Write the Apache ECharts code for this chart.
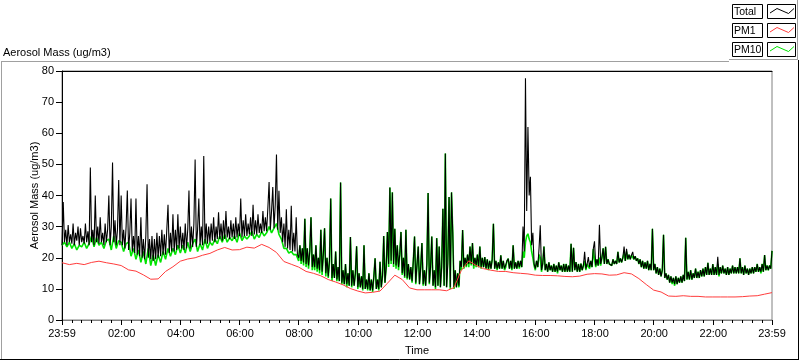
<!DOCTYPE html>
<html>
<head>
<meta charset="utf-8">
<script src="https://cdn.jsdelivr.net/npm/echarts@6/dist/echarts.min.js"></script>
<style>html,body{margin:0;padding:0;background:#fff}#c{width:800px;height:361px}</style>
</head>
<body>
<div id="c"></div>
<script>
// ---- data (x = minutes since the 23:59 start) ----
const seriesNames = ['Total', 'PM1', 'PM10'];
const xLabelMinutes = [0, 121, 241, 361, 481, 601, 721, 841, 961, 1081, 1201, 1321, 1440];
const totalStepMin = 2.5;
const pm1StepMin = 15;
const pm10EarlyStepMin = 5;
const pm10LateStartMin = 480;
const pm10LateStepMin = 2.5;

const totalValues = [
  24, 37.9, 25, 29, 24, 30.5, 25, 27.5, 24.5, 31, 24, 28, 25.5, 30, 24, 29.5, 25, 27, 24.5, 31, 25, 28.5, 24, 49,
  25, 29, 24, 40, 25, 30, 24.5, 33, 25, 28, 24, 31, 25, 29, 40, 24, 30, 50.6, 25, 32, 24, 29, 45, 24,
  40, 24, 29, 23, 30, 41.6, 22.5, 28, 39, 22, 27, 21.5, 39, 21, 27, 20.5, 33, 20, 26, 19.5, 27, 43.6, 20, 26,
  19.5, 27, 19, 26, 19.5, 28, 20, 27, 20.5, 29, 21, 27.5, 21, 29, 37, 21.5, 28, 22, 34, 22, 29, 22.5, 34, 23,
  30, 23, 28, 22.5, 31, 23, 29, 41.6, 23, 30, 23.5, 31, 51.6, 23.5, 29, 39, 24, 30, 24, 52.7, 24.5, 31, 24.5, 30,
  25, 31, 25.5, 33, 25, 30, 26, 34.6, 26, 31, 25.5, 32, 26, 35, 26.5, 30, 26, 32, 26.5, 31, 26, 33, 26.5, 31,
  27, 39, 26.5, 32, 27, 34, 27, 31, 27.5, 33, 27, 37, 27.5, 32, 27.5, 34, 28, 31, 28, 35, 28.5, 33, 28.5, 36,
  44.3, 29, 35, 42.7, 29.5, 37, 53.2, 29, 41.5, 28, 33, 25, 31, 23.5, 35.6, 23, 29, 22.5, 36.7, 22, 28, 22, 33, 21,
  20, 24, 19, 23, 18.5, 32.5, 18, 23, 17.5, 22, 33, 17, 21, 17, 24, 16.5, 20, 16, 29, 15.5, 21, 29.5, 15, 20,
  14, 19, 39, 13.5, 18, 13.5, 22, 13, 17, 12.5, 44.2, 12, 16, 11.5, 18, 11.5, 15, 11, 26.7, 11, 16, 11, 15, 23.7,
  10.5, 15, 10.5, 14, 10, 24, 10, 13, 10, 15, 9.5, 13, 9.5, 14, 19.8, 10, 13, 10, 18.7, 10.5, 14, 27, 12, 17,
  28.3, 18, 42.6, 19, 41, 18, 29.3, 17.5, 24, 17, 21, 28.3, 15, 20, 14, 29, 13.5, 18, 13, 17, 12.5, 19, 26.8, 12,
  12, 23.6, 11.5, 17, 24.7, 11.5, 16, 11, 18, 40.8, 12, 17, 26.8, 11, 16, 10.5, 26.3, 11, 23.6, 10.5, 17, 35.7, 11, 53.5,
  10.5, 18, 39.5, 10.5, 41, 28.3, 10.5, 16, 10.5, 15, 11, 19, 17, 28.9, 17, 20, 17.5, 21, 18, 23.6, 18, 24.7, 17.5, 20,
  17.5, 21, 17, 23.6, 17, 20, 17, 20.2, 16.5, 19.5, 16.5, 19, 16.5, 19.5, 30.9, 16.5, 19, 16.5, 18.5, 16.5, 20.8, 16.5, 19, 16.5,
  17, 19, 19.7, 16.5, 19, 16.5, 24, 16.5, 18.5, 16.5, 19, 17, 19, 17, 30, 22, 77.7, 35, 62, 40, 46, 24, 28, 18,
  16.5, 19, 17, 23, 30.4, 16, 18, 23.6, 16, 18, 15.5, 18.5, 16, 17.5, 15.5, 18, 15.5, 17.5, 15.5, 18.5, 16, 17.5, 15.5, 18,
  15.5, 18, 15.5, 17.5, 15.5, 24.5, 15.5, 23.2, 16, 18.6, 15.5, 18, 15.5, 18.1, 16, 17.5, 21.9, 16.5, 18, 20.2, 17, 19, 17, 22.8,
  25.3, 17.5, 19.5, 17.5, 30.6, 18, 20, 23, 18, 23.5, 18, 19.5, 18, 18.6, 17.5, 19.5, 18, 19, 18, 21.9, 18.5, 19.8, 18.5, 20,
  23.6, 19, 22.9, 19.5, 21, 19.5, 20.8, 21.9, 19.5, 20.5, 19, 19.8, 18, 19.5, 17, 19, 16.5, 18.5, 16.5, 19, 16, 18, 16, 29.3,
  16, 18, 15, 17, 14.5, 16.5, 14, 16, 27.4, 13.5, 15, 13, 14.5, 12, 14, 12, 13.5, 11.5, 14, 11.5, 13.5, 12, 14, 12,
  14.5, 12.5, 26.4, 13, 15.5, 13, 16, 13, 15, 13.5, 16.5, 13.5, 15.5, 13.5, 16, 14, 16.5, 14, 17, 14.5, 18.4, 14.5, 16.5, 14.5,
  18, 14.5, 17, 14.5, 20.3, 14.5, 17, 15, 17.5, 15, 16.5, 14.5, 17, 14.5, 16.5, 15, 17.5, 15, 17, 15, 17, 15, 19.8, 15,
  17, 14.5, 17.5, 15, 16.5, 14.5, 16.5, 15, 17, 15, 17, 15.5, 18, 15.5, 17, 15.5, 18, 15.5, 20.9, 16, 17.5, 16, 17.5, 16.5,
  22.2
];

const pm10EarlyValues = [
  24, 25, 23.5, 25, 23, 24.5, 22.5, 24, 23.5, 25, 23, 24.5,
  27, 23.5, 26.5, 24, 25, 23, 25.5, 26, 22.5, 27, 23, 25.5,
  25, 22, 24.5, 25, 20.5, 23, 19.5, 22.5, 18.5, 22, 18, 23,
  17.5, 21, 17.5, 21, 18.5, 22, 19.5, 23, 20.5, 23, 21, 24,
  21.5, 24, 21.5, 25, 22, 24.5, 26, 22, 24.5, 22.5, 26, 23,
  25, 24, 26, 24.5, 27, 25, 27.5, 25, 26.5, 25.5, 27, 25,
  28, 25.5, 27, 26, 27, 28.5, 26, 27.5, 26.5, 28.5, 27, 28,
  30, 28, 29.5, 31, 27.5, 26, 23, 23, 21.5, 22, 21, 21
];

const pm10LateValues = [
  19, 24, 18, 23, 17.5, 32.5, 17, 23, 16.5, 22, 33, 16, 21, 16, 24, 15.5, 20, 15, 29, 14.5, 21, 29.5, 14, 20,
  13.5, 19, 39, 12.5, 18, 13.5, 22, 12.5, 17, 12.5, 44.2, 11.5, 16, 11.5, 18, 10.5, 15, 11, 26.7, 10.5, 16, 11, 15, 23.7,
  10, 15, 10.5, 14, 9.5, 24, 10, 13, 9.5, 15, 9.5, 13, 9, 14, 19.8, 10, 13, 9.5, 18.7, 10.5, 14, 27, 12, 17,
  28.3, 17, 42.6, 18, 41, 17, 29.3, 16.5, 24, 16, 21, 28.3, 14.5, 20, 13.5, 29, 13, 18, 13, 17, 12, 19, 26.8, 11.5,
  11.5, 23.6, 11.5, 17, 24.7, 11, 16, 11, 18, 40.8, 11.5, 17, 26.8, 11, 16, 10, 26.3, 11, 23.6, 10.5, 17, 35.7, 11, 53.5,
  10.5, 21, 39.5, 10, 41, 28.3, 10, 16, 10.5, 15, 10.5, 19, 16, 28.9, 16.5, 20, 17, 21, 17, 23.6, 17.5, 24.7, 16.5, 20,
  17, 21, 17, 23.6, 16.5, 20, 17, 20.2, 16.5, 19.5, 16, 19, 16.5, 19.5, 30.9, 16.5, 19, 16, 18.5, 16.5, 20.8, 16.5, 19, 16,
  17, 19, 19.7, 16.5, 19, 16, 24, 16.5, 18.5, 16.5, 19, 16.5, 19, 17, 22, 20, 25, 27, 27.7, 26, 25, 22, 20, 17.5,
  16, 19, 17, 21, 20, 15.5, 18, 23.6, 16, 18, 15.5, 18.5, 16, 17.5, 15.5, 18, 15.5, 17.5, 15, 18.5, 16, 17.5, 15.5, 18,
  15.5, 18, 15.5, 17.5, 15.5, 24.5, 15.5, 23.2, 16, 18.6, 15.5, 18, 15.5, 18.1, 16, 17.5, 19, 16, 18, 18.5, 16.5, 19, 17, 22.8,
  19.5, 17, 19.5, 17.5, 20, 17.5, 20, 23, 18, 23.5, 18, 19.5, 18, 18.6, 17.5, 19.5, 18, 19, 18, 21.9, 18.5, 19.8, 18.5, 20,
  21.5, 19, 22, 19.5, 21, 19.5, 20.8, 21, 19.5, 20.5, 19, 19.8, 18, 19.5, 17, 19, 16.5, 18.5, 16.5, 19, 16, 18, 16, 29.3,
  16, 18, 15, 17, 14.5, 16.5, 14, 16, 27.4, 13.5, 15, 13, 14.5, 12, 14, 11.5, 13.5, 11, 14, 11.5, 13.5, 12, 14, 12,
  14.5, 12.5, 26.4, 13, 15.5, 13, 16, 13, 15, 13.5, 16.5, 13.5, 15.5, 13.5, 16, 14, 16.5, 14, 17, 14.5, 18.4, 14.5, 16.5, 14.5,
  18, 14.5, 17, 14.5, 18, 14, 17, 15, 17.5, 15, 16.5, 14.5, 17, 14.5, 16.5, 15, 17.5, 15, 17, 15, 17, 15, 19.8, 15,
  17, 14.5, 17.5, 15, 16.5, 14.5, 16.5, 15, 17, 15, 17, 15.5, 18, 15.5, 17, 15, 18, 15.5, 20.9, 16, 17.5, 16, 17.5, 16.5,
  22.2
];

const pm1Values = [
  18.4, 17.8, 18.2, 17.8, 18.5, 18.9, 18.4, 18.0, 17.5, 16.1, 15.7, 14.5,
  13.1, 13.2, 15.6, 17.1, 18.9, 19.6, 20.0, 20.8, 21.4, 22.5, 23.3, 22.5,
  22.6, 23.4, 23.1, 24.3, 23.3, 21.7, 18.8, 17.9, 17.0, 15.6, 15.0, 14.2,
  13.0, 12.2, 11.3, 10.1, 9.3, 8.7, 8.9, 9.3, 11.8, 14.4, 13.0, 10.3,
  9.7, 9.7, 9.7, 9.7, 9.4, 10.4, 16.0, 19.0, 17.5, 16.5, 16.0, 15.6,
  15.6, 15.2, 15.0, 14.8, 14.4, 14.3, 14.3, 14.2, 14.0, 13.9, 14.1, 14.7,
  14.9, 14.8, 14.4, 14.5, 15.2, 14.8, 13.3, 11.4, 9.6, 9.0, 7.7, 7.6,
  7.8, 7.6, 7.6, 7.4, 7.4, 7.4, 7.4, 7.4, 7.5, 7.7, 7.8, 8.3,
  8.8
];

// ---- helpers ----
function toPairs(values, step, start) { start = start || 0; return values.map(function (v, i) { return [start + i * step, v]; }); }
function pad(n) { return (n < 10 ? '0' : '') + n; }
function clockLabel(m) { var t = (1439 + Math.round(m)) % 1440; return pad(Math.floor(t / 60)) + ':' + pad(t % 60); }

const FONT = '"Liberation Sans", Arial, sans-serif';
const colors = { Total: '#000000', PM1: '#ff3c3c', PM10: '#00e400' };

function legendRow(name, top) {
  return {
    type: 'group',
    children: [
      { type: 'rect', shape: { x: 732.5, y: top + 0.5, width: 30, height: 14 }, style: { fill: '#fff', stroke: '#000', lineWidth: 1 } },
      { type: 'text', x: 734, y: top + 8, style: { text: name, font: '10.5px ' + FONT, fill: '#000', verticalAlign: 'middle', align: 'left' } },
      { type: 'rect', shape: { x: 767.5, y: top + 0.5, width: 28, height: 14 }, style: { fill: '#fff', stroke: '#000', lineWidth: 1 } },
      { type: 'polyline', shape: { points: [[770, top + 9], [777, top + 4.5], [785, top + 8], [788.5, top + 9.5], [794, top + 4.5]] }, style: { stroke: colors[name], lineWidth: 1, fill: null } }
    ]
  };
}

const pm10Data = toPairs(pm10EarlyValues, pm10EarlyStepMin, 0).concat(toPairs(pm10LateValues, pm10LateStepMin, pm10LateStartMin));

const chart = echarts.init(document.getElementById('c'), null, { renderer: 'canvas' });
chart.setOption({
  animation: false,
  backgroundColor: '#fff',
  textStyle: { fontFamily: FONT, fontSize: 11, color: '#000' },
  grid: { left: 62, right: 28, top: 71, bottom: 39, show: true, borderColor: '#808080', borderWidth: 1, backgroundColor: '#fff' },
  xAxis: [
    {
      type: 'value', min: 0, max: 1440, interval: 120, position: 'bottom',
      name: 'Time', nameLocation: 'middle', nameGap: 25, nameMoveOverlap: false,
      nameTextStyle: { fontFamily: FONT, fontSize: 11, color: '#000' },
      axisLine: { show: true, lineStyle: { color: '#808080', width: 1 } },
      axisTick: { show: true, length: 5, lineStyle: { color: '#000' } },
      minorTick: { show: true, splitNumber: 6, length: 3, lineStyle: { color: '#000' } },
      axisLabel: { customValues: xLabelMinutes, formatter: clockLabel, margin: 8, color: '#000', fontFamily: FONT, fontSize: 11 },
      splitLine: { show: false }, minorSplitLine: { show: false }
    },
    {
      type: 'value', min: 0, max: 1440, position: 'top',
      axisLine: { show: true, lineStyle: { color: '#000', width: 1 } },
      axisTick: { show: false }, axisLabel: { show: false }, splitLine: { show: false }
    }
  ],
  yAxis: {
    type: 'value', min: 0, max: 80, interval: 10,
    name: 'Aerosol Mass (ug/m3)', nameLocation: 'middle', nameGap: 22, nameMoveOverlap: false,
    nameTextStyle: { fontFamily: FONT, fontSize: 11, color: '#000' },
    axisLine: { show: true, lineStyle: { color: '#000', width: 1 } },
    axisTick: { show: true, length: 6, lineStyle: { color: '#000' } },
    axisLabel: { margin: 8, color: '#000', fontFamily: FONT, fontSize: 11 },
    splitLine: { show: false }
  },
  series: [
    { name: seriesNames[0], type: 'line', data: toPairs(totalValues, totalStepMin, 0), symbol: 'none', z: 3, silent: true,
      lineStyle: { color: colors.Total, width: 1.1 } },
    { name: seriesNames[1], type: 'line', data: toPairs(pm1Values, pm1StepMin, 0), symbol: 'none', z: 4, silent: true,
      lineStyle: { color: colors.PM1, width: 1 } },
    { name: seriesNames[2], type: 'line', data: pm10Data, symbol: 'none', z: 2, silent: true,
      lineStyle: { color: colors.PM10, width: 1.6 } }
  ],
  graphic: [
    { type: 'text', x: 3, y: 53, style: { text: 'Aerosol Mass (ug/m3)', font: '11px ' + FONT, fill: '#000', verticalAlign: 'middle' } },
    { type: 'line', shape: { x1: 1, y1: 61.5, x2: 729, y2: 61.5 }, style: { stroke: '#a0a0a0', lineWidth: 1 } },
    { type: 'line', shape: { x1: 729, y1: 59.5, x2: 797, y2: 59.5 }, style: { stroke: '#a0a0a0', lineWidth: 1 } },
    { type: 'line', shape: { x1: 797.5, y1: 0, x2: 797.5, y2: 60 }, style: { stroke: '#a0a0a0', lineWidth: 1 } },
    { type: 'line', shape: { x1: 1.5, y1: 61, x2: 1.5, y2: 359 }, style: { stroke: '#a0a0a0', lineWidth: 1 } },
    { type: 'line', shape: { x1: 798.5, y1: 60, x2: 798.5, y2: 360 }, style: { stroke: '#000', lineWidth: 1 } },
    { type: 'line', shape: { x1: 0, y1: 359.5, x2: 799, y2: 359.5 }, style: { stroke: '#000', lineWidth: 1 } },
    legendRow('Total', 4),
    legendRow('PM1', 23),
    legendRow('PM10', 42)
  ]
});
</script>
</body>
</html>
